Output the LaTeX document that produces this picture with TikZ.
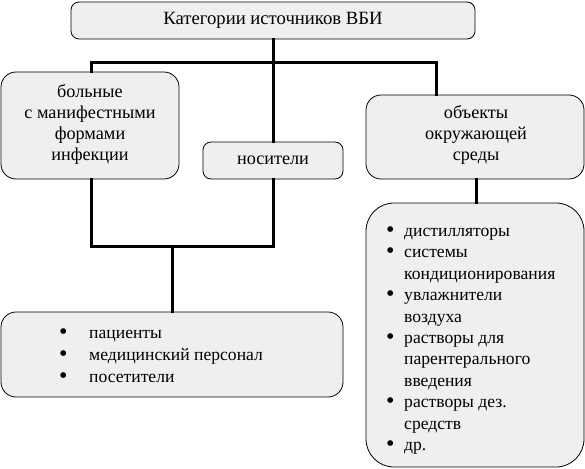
\documentclass[tikz,border=0pt]{standalone}
\usepackage{fontspec}
\setmainfont{Liberation Serif}
\definecolor{boxfill}{HTML}{EFEFEF}
\newcommand{\mybul}[1]{\makebox[#1][l]{\smash{\raisebox{-0.06em}{\fontsize{24}{0}\selectfont •}}}}
\begin{document}
\begin{tikzpicture}[x=1pt,y=-1pt,
  box/.style={draw=black,line width=0.8pt,fill=boxfill,inner sep=0pt,anchor=center},
  conn/.style={line width=3pt,line cap=rect},
  txt/.style={inner sep=0pt,font=\fontsize{18.2}{21}\selectfont,align=center},
  lst/.style={inner sep=0pt,font=\fontsize{17.6}{21.4}\selectfont,align=left,anchor=north west}]
\useasboundingbox (0,0) rectangle (585,468);
% boxes
\node[box,rounded corners=8pt,minimum width=404pt,minimum height=37pt] (top) at (273,20.5) {};
\node[box,rounded corners=15pt,minimum width=178pt,minimum height=107pt] (sick) at (90,125.5) {};
\node[box,rounded corners=8pt,minimum width=140pt,minimum height=37pt] (carr) at (273,160.5) {};
\node[box,rounded corners=15pt,minimum width=218pt,minimum height=84pt] (env) at (475,137) {};
\node[box,rounded corners=15pt,minimum width=342pt,minimum height=85pt] (ppl) at (172,354.5) {};
\node[box,rounded corners=28pt,minimum width=218pt,minimum height=264pt] (obj) at (475,335) {};
% texts
\node[txt,font=\fontsize{18.7}{21}\selectfont] (ttop) at (top.center) {Категории источников ВБИ};
\node[txt] (tsick) at (90,124) {больные\\с манифестными\\формами\\инфекции};
\node[txt] (tcarr) at (carr.center) {носители};
\node[txt] (tenv) at (476,135) {объекты\\окружающей\\среды};
\node[lst,font=\fontsize{17.6}{22}\selectfont] (tppl) at (59,330) {\mybul{30pt}пациенты\\\mybul{30pt}медицинский персонал\\\mybul{30pt}посетители};
\node[lst] (tobj) at (386,228) {\mybul{18pt}дистилляторы\\\mybul{18pt}системы\\\hspace*{18pt}кондиционирования\\\mybul{18pt}увлажнители\\\hspace*{18pt}воздуха\\\mybul{18pt}растворы для\\\hspace*{18pt}парентерального\\\hspace*{18pt}введения\\\mybul{18pt}растворы дез.\\\hspace*{18pt}средств\\\mybul{18pt}др.};
% connectors
\coordinate (hl) at (91,63);
\coordinate (hr) at (436,63);
\coordinate (jl) at (91,246);
\coordinate (jr) at (273,246);
\coordinate (jm) at (172,246);
\draw[conn] (top.south) -- (carr.north);
\draw[conn] (sick.north -| hl) -- (hl) -- (hr) -- (env.north -| hr);
\draw[conn] (sick.south -| jl) -- (jl) -- (jr) -- (carr.south);
\draw[conn] (jm) -- (ppl.north -| jm);
\draw[conn] ([xshift=1pt]env.south) -- ([xshift=1pt]obj.north);
\end{tikzpicture}
\end{document}
